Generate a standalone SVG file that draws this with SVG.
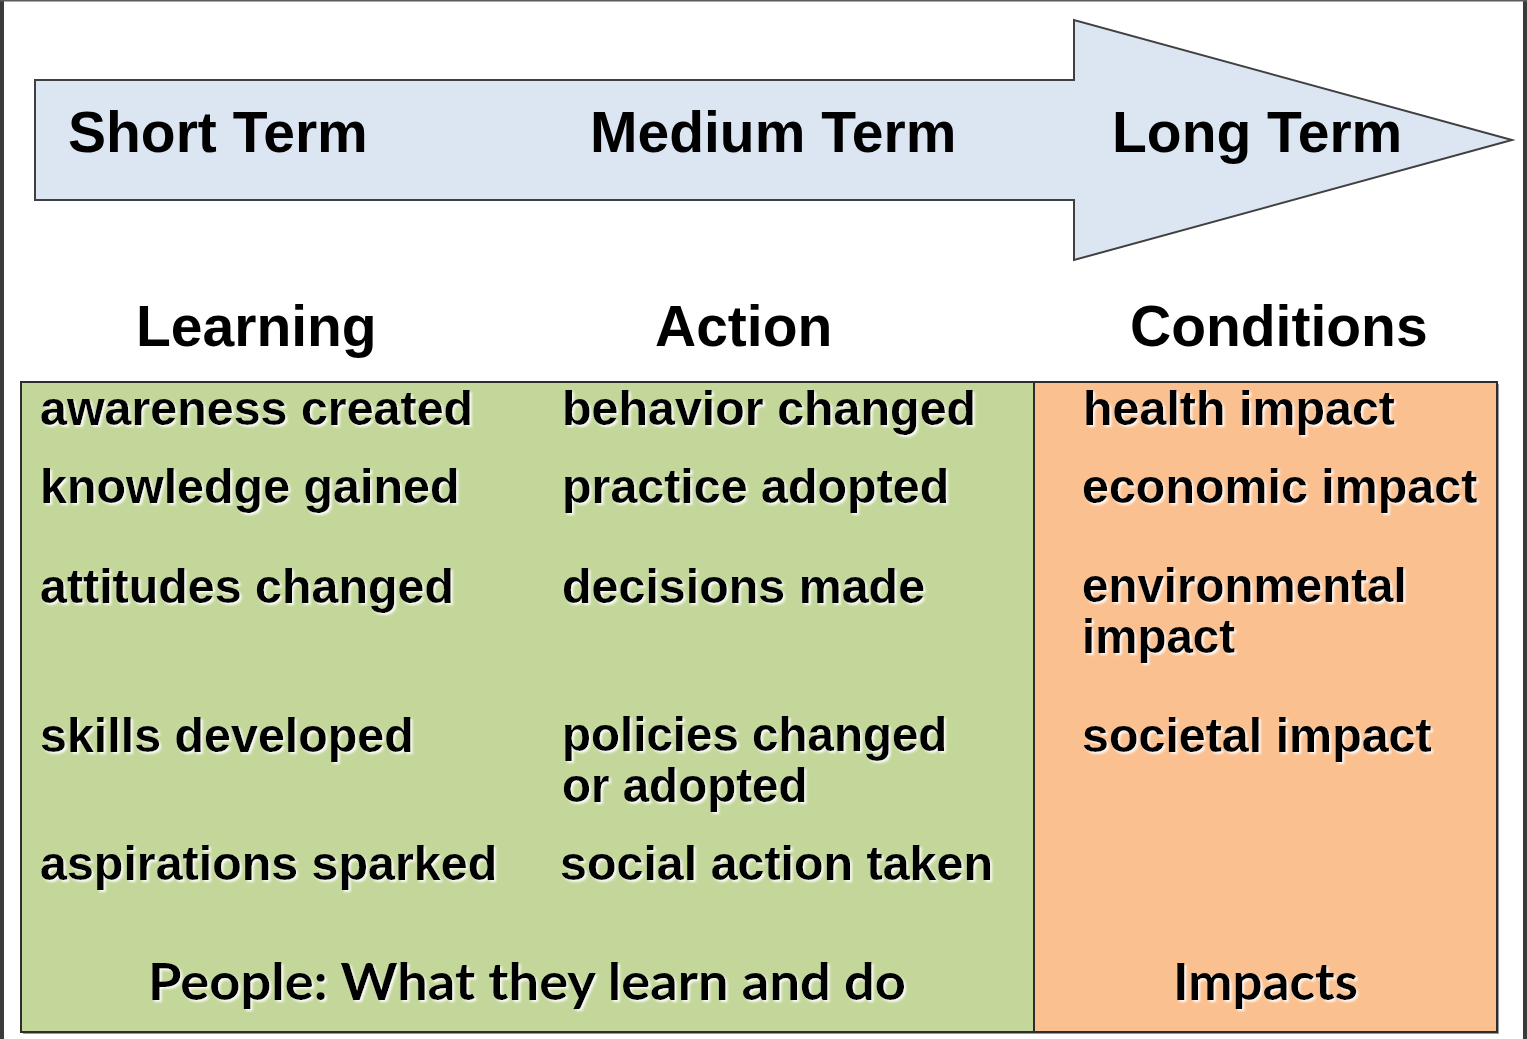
<svg xmlns="http://www.w3.org/2000/svg" width="1527" height="1039" viewBox="0 0 1527 1039">
<defs>
<style>
.hdr{font-family:"Liberation Sans",Arial,sans-serif;font-weight:bold;font-size:57px;fill:#000}
.item{font-family:"Liberation Sans",Arial,sans-serif;font-weight:bold;font-size:48.4px;fill:#000;filter:url(#glow)}
.tight{font-size:47.5px}
.foot{font-family:Lato,"Open Sans",sans-serif;font-weight:bold;font-size:52px;fill:#000;filter:url(#glow)}
</style>
<filter id="glow" x="-5%" y="-20%" width="110%" height="140%">
<feDropShadow dx="2" dy="2" stdDeviation="0.8" flood-color="#ffffff" flood-opacity="0.9"/>
</filter>
</defs>
<rect x="0" y="0" width="1527" height="1039" fill="#ffffff"/>
<rect x="0" y="0" width="4" height="1039" fill="#3a3a3a"/>
<rect x="1523" y="0" width="4" height="1039" fill="#3a3a3a"/>
<rect x="0" y="0" width="1527" height="1.5" fill="#5a5a5a"/>

<g id="timeline-arrow">
<polygon points="35,80 1074,80 1074,20 1512,140 1074,260 1074,200 35,200" fill="#dce6f2" stroke="#404040" stroke-width="2" stroke-linejoin="miter"/>
<text class="hdr" x="68" y="152">Short Term</text>
<text class="hdr" x="590" y="152">Medium Term</text>
<text class="hdr" x="1112" y="152">Long Term</text>
</g>

<g id="column-headers">
<text class="hdr" x="136" y="346">Learning</text>
<text class="hdr" x="655" y="346">Action</text>
<text class="hdr" x="1130" y="346">Conditions</text>
</g>

<g id="people-box">
<rect x="23" y="384" width="1013" height="650" fill="#9a9a9a"/>
<rect x="21" y="382" width="1013" height="650" fill="#c4d79b" stroke="#2e2e2e" stroke-width="2"/>
<text class="item" x="40" y="425">awareness created</text>
<text class="item" x="40" y="503">knowledge gained</text>
<text class="item" x="40" y="603">attitudes changed</text>
<text class="item" x="40" y="752">skills developed</text>
<text class="item" x="40" y="880">aspirations sparked</text>
<text class="item" x="562" y="425">behavior changed</text>
<text class="item" x="562" y="503">practice adopted</text>
<text class="item" x="562" y="603">decisions made</text>
<text class="item tight" x="562" y="751">policies changed</text>
<text class="item tight" x="562" y="802">or adopted</text>
<text class="item" x="560" y="880">social action taken</text>
<text class="foot" x="148" y="1000" textLength="758" lengthAdjust="spacingAndGlyphs">People: What they learn and do</text>
</g>

<g id="impacts-box">
<rect x="1036" y="384" width="463" height="650" fill="#9a9a9a"/>
<rect x="1034" y="382" width="463" height="650" fill="#fac090" stroke="#2e2e2e" stroke-width="2"/>
<text class="item" x="1083" y="425">health impact</text>
<text class="item" x="1082" y="503">economic impact</text>
<text class="item tight" x="1082" y="602">environmental</text>
<text class="item tight" x="1082" y="653">impact</text>
<text class="item" x="1082" y="752">societal impact</text>
<text class="foot" x="1173" y="1000" textLength="185" lengthAdjust="spacingAndGlyphs">Impacts</text>
</g>
<g id="connectors"></g>
</svg>
